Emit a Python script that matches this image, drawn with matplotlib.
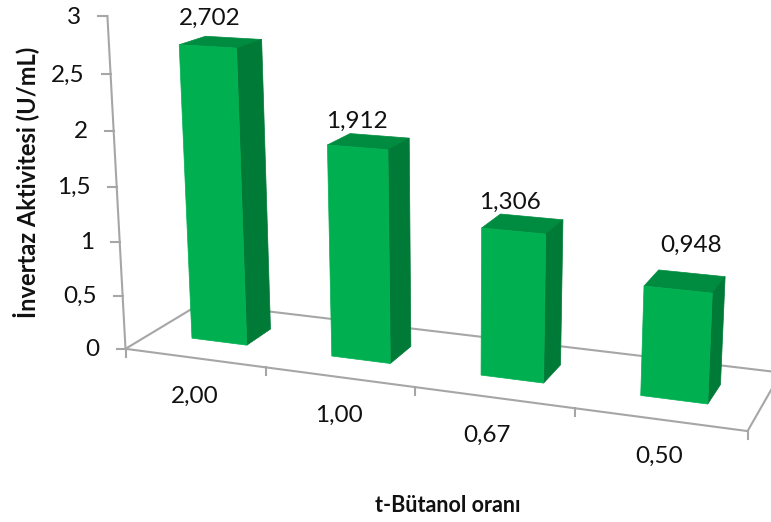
import numpy as np
import matplotlib
matplotlib.use('Agg')
import matplotlib.pyplot as plt
from matplotlib.patches import Polygon

plt.rcParams['font.family'] = ['Lato', 'DejaVu Sans']

# ── Data ──────────────────────────────────────────────────────────────────────
categories = ['2,00', '1,00', '0,67', '0,50']
values = [2.702, 1.912, 1.306, 0.948]
value_labels = ['2,702', '1,912', '1,306', '0,948']
y_ticks = [0, 0.5, 1, 1.5, 2, 2.5, 3]
y_tick_labels = ['0', '0,5', '1', '1,5', '2', '2,5', '3']

# ── Perspective scale: (category, depth, value) -> pixel ──────────────────────
# anchors of the axis frame, used to solve the camera matrix
frame_world = [(0, 0, 0), (1, 0, 0), (2, 0, 0), (3, 0, 0), (4, 0, 0),
               (0, 0, 0.5), (0, 0, 1), (0, 0, 1.5), (0, 0, 2), (0, 0, 2.5), (0, 0, 3),
               (0, 1, 0), (4, 1, 0)]
frame_px = [(125, 349), (266, 368), (415, 387), (575, 409), (748, 430),
            (123, 295), (120, 242), (117, 187), (113, 131), (110, 74), (108, 16),
            (201, 303), (781, 373)]

rows = []
for (u, d, v), (px, py) in zip(frame_world, frame_px):
    rows.append([u, d, v, 1, 0, 0, 0, 0, -px*u, -px*d, -px*v, -px])
    rows.append([0, 0, 0, 0, u, d, v, 1, -py*u, -py*d, -py*v, -py])
P = np.linalg.svd(np.array(rows, dtype=float))[2][-1].reshape(3, 4)

def proj(u, d, v):
    x, y, w = P @ np.array([u, d, v, 1.0])
    return x/w, y/w

# ── Layout ────────────────────────────────────────────────────────────────────
fig = plt.figure(figsize=(7.71, 5.22), dpi=100)
ax = fig.add_axes([0, 0, 1, 1])
ax.set_xlim(0, 771); ax.set_ylim(522, 0)
ax.axis('off')

GREY = '#a6a6a6'
FRONT, SIDE, TOP = '#00b050', '#007a37', '#008c40'
BAR_W = 0.40
D0, D1 = 0.33, 0.67
FS = 17.5

def axis_line(a, b):
    p, q = proj(*a), proj(*b)
    ax.plot([p[0], q[0]], [p[1], q[1]], color=GREY, lw=1.5, zorder=1)

# floor and value axis
axis_line((0, 0, 0), (4, 0, 0))
axis_line((0, 1, 0), (4, 1, 0))
axis_line((0, 0, 0), (0, 1, 0))
axis_line((4, 0, 0), (4, 1, 0))
axis_line((0, 0, 0), (0, 0, 3))

for t, lab in zip(y_ticks, y_tick_labels):
    x, y = proj(0, 0, t)
    ax.plot([x-9, x], [y, y], color=GREY, lw=1.5, zorder=1)
    ax.text(x-26, y+1, lab, ha='right', va='center', fontsize=FS, color='#111111')

for i in range(len(categories)+1):
    x, y = proj(i, 0, 0)
    ax.plot([x, x], [y, y+8], color=GREY, lw=1.5, zorder=1)

# ── Bars ──────────────────────────────────────────────────────────────────────
cat_dx = [0, 0, -7, -1]
cat_dy = [38, 38, 38, 37]
lab_dx = [-11, -12, -13, 6]
lab_dy = [-24, -20, -22, -36]

for i, val in enumerate(values):
    u0, u1 = i+0.5-BAR_W/2, i+0.5+BAR_W/2
    top = [proj(u0, D0, val), proj(u1, D0, val), proj(u1, D1, val), proj(u0, D1, val)]
    side = [proj(u1, D0, 0), proj(u1, D1, 0), proj(u1, D1, val), proj(u1, D0, val)]
    front = [proj(u0, D0, 0), proj(u1, D0, 0), proj(u1, D0, val), proj(u0, D0, val)]
    for pts, col in ((top, TOP), (side, SIDE), (front, FRONT)):
        ax.add_patch(Polygon(pts, closed=True, facecolor=col, edgecolor=col, lw=0.5, zorder=2))

    cx, cy = proj(i+0.5, 0.5, val)
    ax.text(cx+lab_dx[i], cy+lab_dy[i], value_labels[i], ha='center', va='center',
            fontsize=FS, color='#111111', zorder=3)

    bx, by = proj(i+0.5, 0, 0)
    ax.text(bx+cat_dx[i], by+cat_dy[i], categories[i], ha='center', va='center',
            fontsize=FS, color='#111111')

# ── Axis titles ───────────────────────────────────────────────────────────────
ax.text(26, 182, 'İnvertaz Aktivitesi (U/mL)', rotation=90, ha='center', va='center',
        fontsize=17, fontweight='bold', color='#111111')
ax.text(448, 505, 't-Bütanol oranı', ha='center', va='center',
        fontsize=15.5, fontweight='bold', color='#111111')

fig.savefig('out.png', dpi=100)
